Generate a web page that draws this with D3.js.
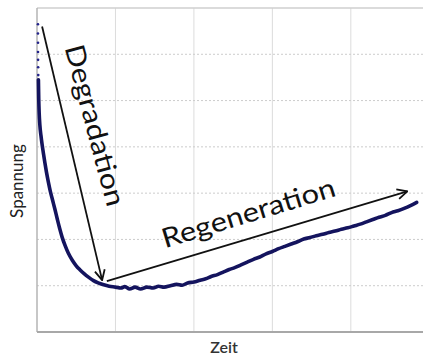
<!DOCTYPE html>
<html>
<head>
<meta charset="utf-8">
<script src="https://cdn.jsdelivr.net/npm/d3@7"></script>
<style>
  html, body { margin: 0; padding: 0; background: #fff; }
  svg { display: block; font-family: Lato, "Open Sans", sans-serif; }
</style>
</head>
<body>
<svg id="chart" width="423" height="356"></svg>
<script>
// Spannung over Zeit: quick drop (Degradation) then slow recovery (Regeneration).
// Units are arbitrary; one gridline step = 1.
var dropTime = [0.012, 0.012, 0.013, 0.013, 0.014, 0.015, 0.016];
var dropVolt = [6.65, 6.45, 6.25, 6.05, 5.88, 5.72, 5.55];

var time = [0.018, 0.022, 0.028, 0.036, 0.05, 0.065, 0.08, 0.1, 0.12, 0.145, 0.17, 0.2, 0.23, 0.26,
  0.29, 0.32, 0.36, 0.40, 0.45, 0.50, 0.55, 0.60, 0.66, 0.72, 0.78, 0.85, 0.92, 1.0, 1.07,
  1.12, 1.18, 1.25, 1.32, 1.4, 1.48, 1.55, 1.62, 1.7, 1.78, 1.85, 1.92, 2.0, 2.08, 2.15,
  2.22, 2.3, 2.38, 2.45, 2.52, 2.6, 2.68, 2.76, 2.84, 2.92, 3.0, 3.08, 3.16, 3.24, 3.32,
  3.4, 3.48, 3.56, 3.64, 3.72, 3.8, 3.88, 3.96, 4.04, 4.12, 4.2, 4.28, 4.36, 4.44, 4.52,
  4.6, 4.68, 4.76, 4.84];
var volt = [5.45, 5.05, 4.72, 4.48, 4.25, 4.05, 3.88, 3.66, 3.46, 3.24, 3.04, 2.84, 2.64, 2.43,
  2.23, 2.05, 1.86, 1.70, 1.55, 1.43, 1.34, 1.26, 1.18, 1.11, 1.06, 1.02, 0.99, 0.97, 0.95,
  0.98, 0.93, 0.97, 0.93, 0.97, 0.95, 0.99, 0.97, 1.0, 1.03, 1.01, 1.06, 1.08, 1.12, 1.15,
  1.2, 1.24, 1.3, 1.35, 1.39, 1.45, 1.51, 1.57, 1.62, 1.69, 1.74, 1.80, 1.85, 1.90, 1.95,
  2.01, 2.04, 2.08, 2.11, 2.15, 2.18, 2.22, 2.25, 2.29, 2.33, 2.38, 2.43, 2.48, 2.52, 2.58,
  2.62, 2.67, 2.73, 2.80];

var xTicks = [1, 2, 3, 4];
var yTicks = [1, 2, 3, 4, 5, 6];

// annotation arrows, in data units: [x1, y1, x2, y2]
var degradationArrow = [0.065, 6.6, 0.83, 1.12];
var regenerationArrow = [0.89, 1.1, 4.72, 3.04];
var labels = ["Degradation", "Regeneration"];

var svg = d3.select("#chart");
var x = d3.scaleLinear().domain([0, 4.92]).range([37, 423]);
var y = d3.scaleLinear().domain([0, 7]).range([332, 8]);

svg.append("defs").append("marker")
  .attr("id", "head").attr("viewBox", "0 0 12 12")
  .attr("refX", 11).attr("refY", 6)
  .attr("markerWidth", 12).attr("markerHeight", 12)
  .attr("markerUnits", "userSpaceOnUse").attr("orient", "auto")
  .append("path").attr("d", "M1,1 L11,6 L1,11")
  .attr("fill", "none").attr("stroke", "#111").attr("stroke-width", 1.8);

// grid
svg.append("g").selectAll("line").data(xTicks).join("line")
  .attr("x1", x).attr("x2", x).attr("y1", y(7)).attr("y2", y(0))
  .attr("stroke", "#dcdcdc").attr("stroke-width", 1);
svg.append("g").selectAll("line").data(yTicks).join("line")
  .attr("x1", x(0)).attr("x2", x(4.92)).attr("y1", y).attr("y2", y)
  .attr("stroke", "#cccccc").attr("stroke-width", 1).attr("stroke-dasharray", "2,2");

// frame: top, left, bottom
svg.append("line").attr("x1", x(0)).attr("x2", x(4.92)).attr("y1", y(7)).attr("y2", y(7))
  .attr("stroke", "#cfcfcf").attr("stroke-width", 1.5);
svg.append("line").attr("x1", x(0)).attr("x2", x(0)).attr("y1", y(7)).attr("y2", y(0))
  .attr("stroke", "#b5b5b5").attr("stroke-width", 1.5);
svg.append("line").attr("x1", x(0)).attr("x2", x(4.92)).attr("y1", y(0)).attr("y2", y(0))
  .attr("stroke", "#a8a8a8").attr("stroke-width", 2);

// data
svg.append("g").selectAll("circle").data(dropTime).join("circle")
  .attr("cx", function (d) { return x(d); })
  .attr("cy", function (d, i) { return y(dropVolt[i]); })
  .attr("r", 1.3).attr("fill", "#22228a");

var pts = time.map(function (t, i) { return [t, volt[i]]; });
svg.append("path").datum(pts)
  .attr("d", d3.line().x(function (d) { return x(d[0]); }).y(function (d) { return y(d[1]); }).curve(d3.curveMonotoneX))
  .attr("fill", "none").attr("stroke", "#14145e").attr("stroke-width", 3.6)
  .attr("stroke-linejoin", "round").attr("stroke-linecap", "round");

// arrows
[degradationArrow, regenerationArrow].forEach(function (a) {
  svg.append("line")
    .attr("x1", x(a[0])).attr("y1", y(a[1])).attr("x2", x(a[2])).attr("y2", y(a[3]))
    .attr("stroke", "#111").attr("stroke-width", 1.8).attr("marker-end", "url(#head)");
});

svg.append("text").text(labels[0])
  .attr("transform", "translate(96,125) rotate(75)")
  .attr("text-anchor", "middle").attr("dominant-baseline", "central")
  .attr("font-size", 27).attr("fill", "#111")
  .attr("textLength", 166).attr("lengthAdjust", "spacingAndGlyphs");

svg.append("text").text(labels[1])
  .attr("transform", "translate(248,212) rotate(-17)")
  .attr("text-anchor", "middle").attr("dominant-baseline", "central")
  .attr("font-size", 27).attr("fill", "#111")
  .attr("textLength", 180).attr("lengthAdjust", "spacingAndGlyphs");

// axis titles
svg.append("text").text("Spannung")
  .attr("transform", "translate(23,181) rotate(-90)")
  .attr("text-anchor", "middle").attr("font-size", 17).attr("fill", "#222");
svg.append("text").text("Zeit")
  .attr("x", 224).attr("y", 353)
  .attr("text-anchor", "middle").attr("font-size", 16).attr("font-weight", 600).attr("fill", "#333");
</script>
</body>
</html>
